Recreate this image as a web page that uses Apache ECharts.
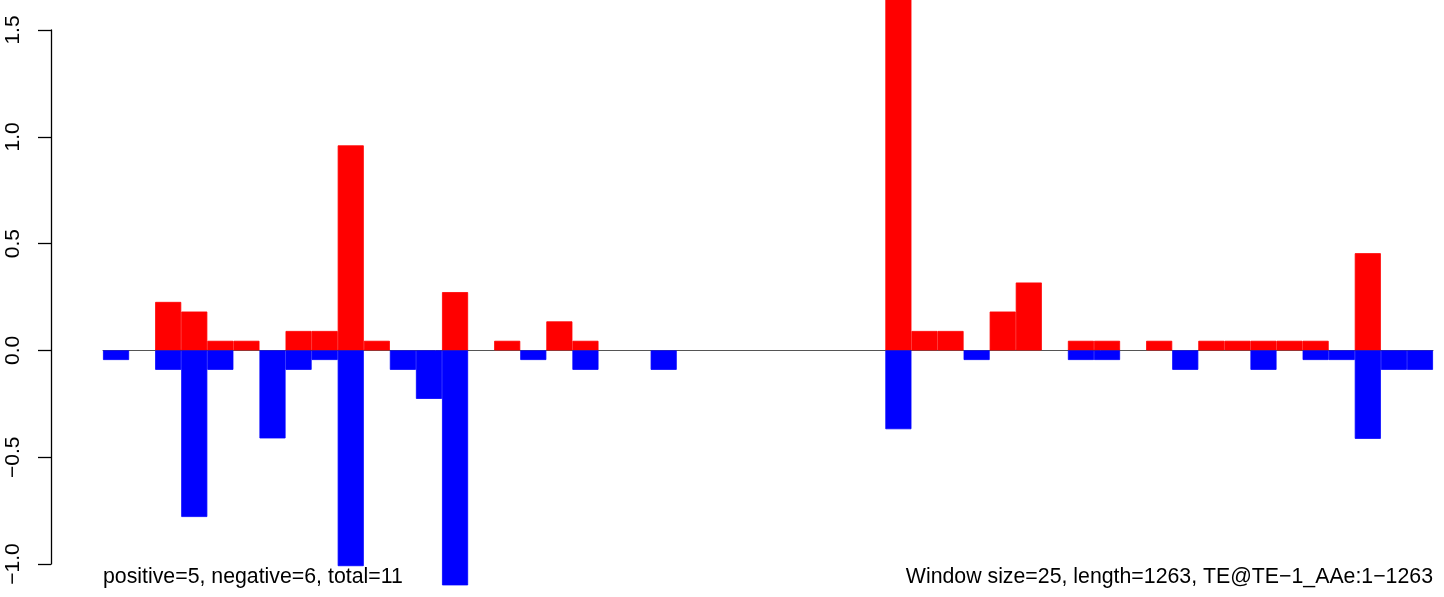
<!DOCTYPE html>
<html>
<head>
<meta charset="utf-8">
<script src="https://cdn.jsdelivr.net/npm/echarts@6/dist/echarts.min.js"></script>
<style>
html,body{margin:0;padding:0;background:#fff;}
#chart{width:1444px;height:597px;}
</style>
</head>
<body>
<div id="chart"></div>
<script>
// Windows (size 25) along the sequence
var windows = [];
for (var k = 1; k <= 51; k++) windows.push(String(k));

var positiveValues = [
  0, 0, 0.227, 0.182, 0.045, 0.045, 0, 0.091, 0.091, 0.96,
  0.045, 0, 0, 0.273, 0, 0.045, 0, 0.136, 0.045, 0,
  0, 0, 0, 0, 0, 0, 0, 0, 0, 0,
  1.72, 0.091, 0.091, 0, 0.182, 0.318, 0, 0.045, 0.045, 0,
  0.045, 0, 0.045, 0.045, 0.045, 0.045, 0.045, 0, 0.455, 0,
  0
];
var negativeValues = [
  -0.045, 0, -0.091, -0.78, -0.091, 0, -0.412, -0.091, -0.045, -1.01,
  0, -0.091, -0.227, -1.10, 0, 0, -0.045, 0, -0.091, 0,
  0, -0.091, 0, 0, 0, 0, 0, 0, 0, 0,
  -0.369, 0, 0, -0.045, 0, 0, 0, -0.045, -0.045, 0,
  0, -0.091, 0, 0, -0.091, 0, -0.045, -0.045, -0.414, -0.091,
  -0.091
];
var yTicks = { min: -1.0, max: 1.5, interval: 0.5 };
var leftNote = 'positive=5, negative=6, total=11';
var rightNote = 'Window size=25, length=1263, TE@TE\u22121_AAe:1\u22121263';

// zero-height windows draw nothing
function barData(arr) { return arr.map(function (v) { return v === 0 ? '-' : v; }); }

var FONT = '"Liberation Sans", Arial, Helvetica, sans-serif';
var chart = echarts.init(document.getElementById('chart'), null, {renderer: 'canvas'});
chart.setOption({
  animation: false,
  backgroundColor: '#ffffff',
  grid: { left: 103, right: 11, top: 30, bottom: 33, containLabel: false },
  xAxis: {
    type: 'category',
    data: windows,
    boundaryGap: true,
    axisLine: { show: true, onZero: true, lineStyle: { color: '#555555', width: 1 } },
    axisTick: { show: false },
    axisLabel: { show: false },
    splitLine: { show: false }
  },
  yAxis: {
    type: 'value',
    position: 'left',
    offset: 52,
    min: yTicks.min,
    max: yTicks.max,
    interval: yTicks.interval,
    axisLine: { show: true, lineStyle: { color: '#000000', width: 1.3 } },
    axisTick: { show: true, length: 13, inside: false, lineStyle: { color: '#000000', width: 1.3 } },
    splitLine: { show: false },
    axisLabel: {
      rotate: 90,
      margin: 27,
      color: '#000000',
      fontFamily: FONT,
      fontSize: 21,
      formatter: function (v) { return v.toFixed(1).replace('-', '\u2212'); }
    }
  },
  series: [
    {
      name: 'positive',
      type: 'bar',
      data: barData(positiveValues),
      barWidth: '100%',
      barGap: '-100%',
      clip: false,
      itemStyle: { color: '#ff0000', borderColor: '#ff0000', borderWidth: 0.8 }
    },
    {
      name: 'negative',
      type: 'bar',
      data: barData(negativeValues),
      barWidth: '100%',
      barGap: '-100%',
      clip: false,
      itemStyle: { color: '#0000ff', borderColor: '#0000ff', borderWidth: 0.8 }
    }
  ],
  graphic: [
    {
      type: 'text', x: 103, y: 577,
      style: { text: leftNote, fill: '#000', font: '21.3px ' + FONT, align: 'left', verticalAlign: 'middle' }
    },
    {
      type: 'text', x: 1433, y: 577,
      style: { text: rightNote, fill: '#000', font: '21.3px ' + FONT, align: 'right', verticalAlign: 'middle' }
    }
  ]
});
</script>
</body>
</html>
